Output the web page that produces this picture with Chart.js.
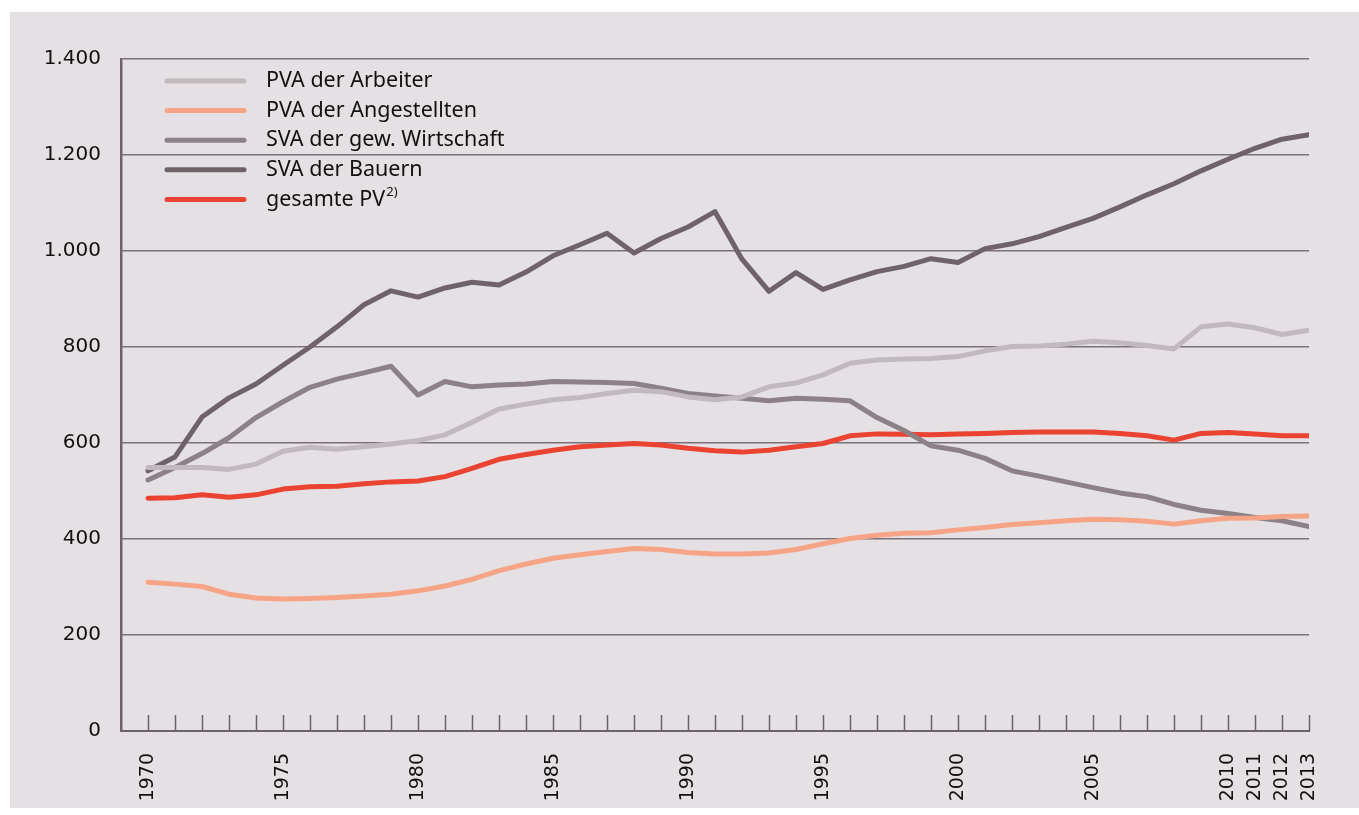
<!DOCTYPE html>
<html>
<head>
<meta charset="utf-8">
<script src="https://cdn.jsdelivr.net/npm/chart.js@4"></script>
<style>
  body { margin: 0; background: #fff; }
  canvas { display: block; }
</style>
</head>
<body>
<canvas id="lineChart" width="1359" height="815"></canvas>
<script>
const years = [];
for (let y = 1970; y <= 2013; y++) years.push(y);

const arbeiter = [549, 549, 549, 545, 556, 583, 591, 587, 592, 598,
  605, 617, 643, 671, 681, 690, 695, 703, 710, 707,
  696, 690, 696, 717, 725, 742, 766, 773, 775, 776,
  780, 792, 801, 802, 806, 812, 809, 803, 796, 842,
  848, 840, 826, 835];

const angestellte = [310, 306, 301, 285, 277, 275, 276, 278, 281, 285,
  292, 302, 316, 334, 348, 360, 367, 374, 380, 378,
  372, 369, 369, 371, 378, 390, 401, 408, 412, 413,
  419, 424, 430, 434, 438, 441, 440, 437, 431, 438,
  443, 444, 447, 448];

const gewWirtschaft = [523, 549, 578, 611, 653, 686, 716, 733, 746, 760,
  700, 728, 717, 721, 723, 728, 727, 726, 724, 714,
  703, 698, 693, 688, 693, 691, 688, 653, 626, 594,
  585, 568, 542, 531, 519, 507, 496, 488, 472, 460,
  453, 445, 438, 426];

const bauern = [542, 571, 654, 694, 723, 762, 800, 842, 888, 917,
  904, 923, 935, 929, 956, 990, 1013, 1037, 996, 1026,
  1050, 1082, 983, 916, 955, 920, 940, 957, 968, 984,
  976, 1005, 1015, 1030, 1049, 1068, 1092, 1117, 1140, 1167,
  1191, 1214, 1233, 1242];

const gesamt = [485, 486, 492, 487, 492, 504, 509, 510, 515, 519,
  521, 530, 547, 566, 576, 585, 592, 596, 599, 596,
  589, 584, 581, 585, 592, 599, 615, 619, 618, 617,
  619, 620, 622, 623, 623, 623, 620, 615, 606, 620,
  622, 619, 615, 615];

const shownYears = [1970, 1975, 1980, 1985, 1990, 1995, 2000, 2005, 2010, 2011, 2012, 2013];

const axisColor = "#6e6269";

function points(values) {
  return values.map((v, i) => ({ x: years[i], y: v }));
}

function series(label, values, color) {
  return {
    label: label,
    data: points(values),
    borderColor: color,
    backgroundColor: color,
    borderWidth: 5,
    pointRadius: 0,
    tension: 0,
    borderCapStyle: "round",
    borderJoinStyle: "round",
  };
}

// panel background
const panelPlugin = {
  id: "panel",
  beforeDraw(chart) {
    const c = chart.ctx;
    c.save();
    c.fillStyle = "#ffffff";
    c.fillRect(0, 0, chart.width, chart.height);
    c.fillStyle = "#e4e0e3";
    c.fillRect(10, 12, chart.width - 10, 796);
    c.restore();
  },
};

// small upward tick marks on the x axis
const tickPlugin = {
  id: "upTicks",
  afterDraw(chart) {
    const c = chart.ctx;
    const xs = chart.scales.x;
    const bottom = chart.chartArea.bottom;
    c.save();
    c.strokeStyle = axisColor;
    c.lineWidth = 1.5;
    years.forEach((yr) => {
      const px = Math.round(xs.getPixelForValue(yr)) + 0.5;
      c.beginPath();
      c.moveTo(px, bottom - 16);
      c.lineTo(px, bottom);
      c.stroke();
    });
    c.restore();
  },
};

// legend inside the plot area
const legendPlugin = {
  id: "innerLegend",
  afterDraw(chart) {
    const c = chart.ctx;
    c.save();
    c.textBaseline = "middle";
    chart.data.datasets.forEach((ds, i) => {
      const y = 81 + i * 29.6;
      c.strokeStyle = ds.borderColor;
      c.lineWidth = 5;
      c.lineCap = "round";
      c.beginPath();
      c.moveTo(167, y);
      c.lineTo(244, y);
      c.stroke();
      c.fillStyle = "#111111";
      c.font = "21.5px 'Noto Sans'";
      c.fillText(ds.label, 266, y);
      if (ds.sup) {
        const w = c.measureText(ds.label).width;
        c.font = "13px 'Noto Sans'";
        c.fillText(ds.sup, 266 + w + 1, y - 7);
      }
    });
    c.restore();
  },
};

const datasets = [
  series("PVA der Arbeiter", arbeiter, "#c2b9be"),
  series("PVA der Angestellten", angestellte, "#f7a486"),
  series("SVA der gew. Wirtschaft", gewWirtschaft, "#8b8187"),
  series("SVA der Bauern", bauern, "#6f6369"),
  series("gesamte PV", gesamt, "#ea4331"),
];
datasets[4].sup = "2)";

const ctx = document.getElementById("lineChart");

const lineChart = new Chart(ctx, {
  type: "line",
  data: { datasets: datasets },
  options: {
    responsive: false,
    animation: false,
    devicePixelRatio: 1,
    layout: { padding: { top: 59, right: 50, left: 0, bottom: 0 } },
    plugins: {
      legend: { display: false },
      tooltip: { enabled: false },
    },
    scales: {
      x: {
        type: "linear",
        min: 1969,
        max: 2013,
        afterFit(scale) { scale.height = 84; },
        afterBuildTicks(scale) {
          scale.ticks = years.map((v) => ({ value: v }));
        },
        grid: { display: false },
        border: { display: true, color: axisColor, width: 2 },
        ticks: {
          autoSkip: false,
          maxRotation: 90,
          minRotation: 90,
          padding: 14,
          color: "#111111",
          font: { family: "DejaVu Sans", size: 19 },
          callback: (v) => (shownYears.includes(v) ? String(v) : ""),
        },
      },
      y: {
        min: 0,
        max: 1400,
        afterFit(scale) { scale.width = 121; },
        grid: { color: "#7a7077", lineWidth: 1.5, drawTicks: false },
        border: { display: true, color: axisColor, width: 2.5 },
        ticks: {
          stepSize: 200,
          padding: 20,
          color: "#111111",
          font: { family: "DejaVu Sans", size: 20 },
          callback: (v) => String(v).replace(/\B(?=(\d{3})+(?!\d))/g, "."),
        },
      },
    },
  },
  plugins: [panelPlugin, tickPlugin, legendPlugin],
});
</script>
</body>
</html>
